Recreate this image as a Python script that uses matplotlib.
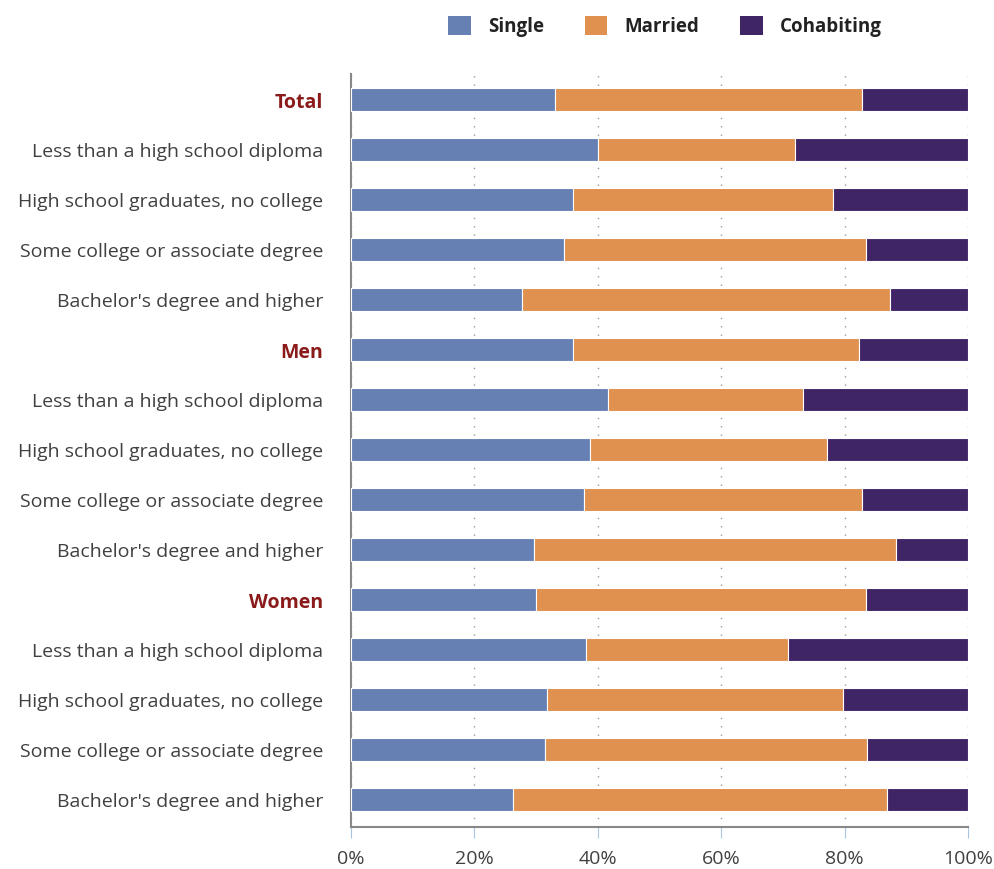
import matplotlib

matplotlib.use("Agg")
import matplotlib.pyplot as plt
import numpy as np
from matplotlib.patches import Patch

plt.rcParams["font.family"] = ["Open Sans", "DejaVu Sans"]

categorias = [
    "Total",
    "Less than a high school diploma",
    "High school graduates, no college",
    "Some college or associate degree",
    "Bachelor's degree and higher",
    "Men",
    "Less than a high school diploma",
    "High school graduates, no college",
    "Some college or associate degree",
    "Bachelor's degree and higher",
    "Women",
    "Less than a high school diploma",
    "High school graduates, no college",
    "Some college or associate degree",
    "Bachelor's degree and higher",
]
grupos = {"Total", "Men", "Women"}

single = [33.0, 40.0, 35.9, 34.6, 27.7, 35.9, 41.6, 38.7, 37.7, 29.6, 30.0, 38.1, 31.8, 31.5, 26.2]
married = [49.8, 31.9, 42.2, 48.8, 59.7, 46.4, 31.6, 38.5, 45.1, 58.8, 53.4, 32.8, 47.9, 52.2, 60.7]
cohabiting = [17.2, 28.1, 21.9, 16.6, 12.6, 17.7, 26.8, 22.8, 17.2, 11.6, 16.6, 29.1, 20.3, 16.3, 13.1]

series = ["Single", "Married", "Cohabiting"]
cores = ["#6780b4", "#e0904f", "#402566"]

fig = plt.figure(figsize=(9.95, 8.7), dpi=100)
ax = fig.add_axes([351 / 995, 42 / 870, 617 / 995, 753 / 870])

y = np.arange(len(categorias))
esquerda = np.zeros(len(categorias))
for nome, vals, cor in zip(series, [single, married, cohabiting], cores):
    vals = np.array(vals)
    ax.barh(y, vals, left=esquerda, height=0.46, color=cor, edgecolor="white",
            linewidth=0.8, label=nome, zorder=3)
    esquerda += vals

ax.set_xlim(0, 100)
ax.set_ylim(len(categorias) - 0.45, -0.5)
ax.set_xticks(np.arange(0, 101, 20))
ax.set_xticklabels([f"{v}%" for v in range(0, 101, 20)], fontsize=14, color="#404040")
ax.set_yticks(y)
ax.set_yticklabels(categorias, fontsize=14, color="#404040")
for lbl in ax.get_yticklabels():
    if lbl.get_text() in grupos:
        lbl.set_color("#8b1a1a")
        lbl.set_fontweight("bold")

ax.tick_params(axis="y", length=0, pad=20)
ax.tick_params(axis="x", length=8, color="#a9c4e0", pad=8)
ax.grid(axis="x", linestyle=(0, (1, 5)), color="#999999", linewidth=1.0, zorder=0)
for s in ["top", "right"]:
    ax.spines[s].set_visible(False)
for s in ["left", "bottom"]:
    ax.spines[s].set_color("#888888")
    ax.spines[s].set_linewidth(1.5)

handles = [Patch(facecolor=c, label=n) for n, c in zip(series, cores)]
fig.legend(handles=handles, loc="center", bbox_to_anchor=(665 / 995, 1 - 27 / 870), ncol=3,
           frameon=False, handlelength=1.2, handleheight=1.2, handletextpad=0.9,
           columnspacing=2.2, labelcolor="#222222", prop={"weight": "bold", "size": 13.5})

fig.savefig("out.png", dpi=100)
plt.close(fig)
